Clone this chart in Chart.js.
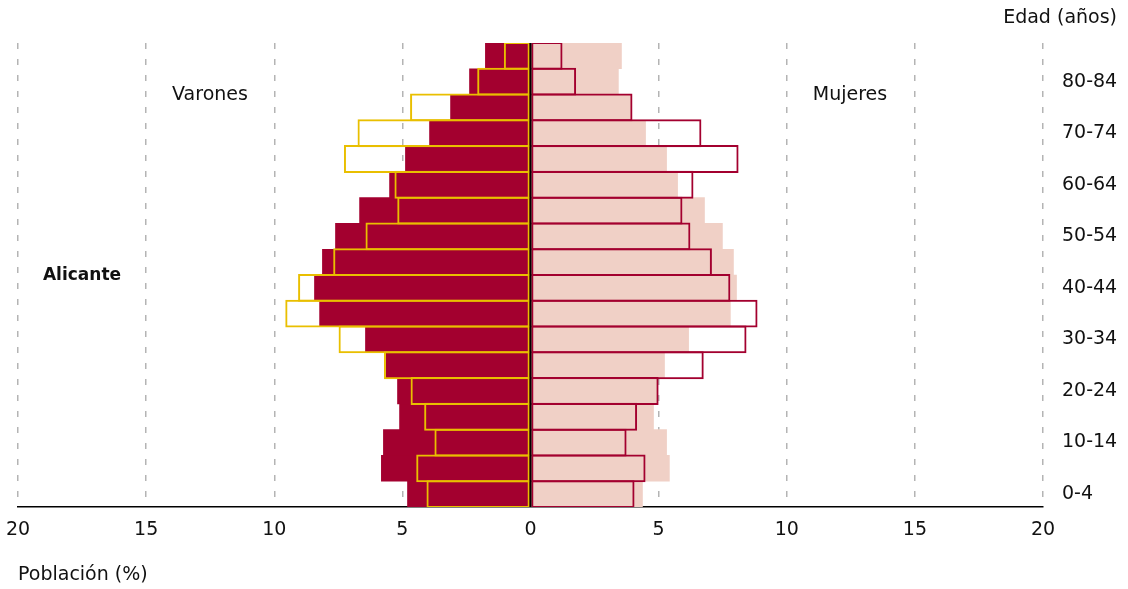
<!DOCTYPE html>
<html><head><meta charset="utf-8">
<script src="https://cdn.jsdelivr.net/npm/chart.js@4/dist/chart.umd.min.js"></script>
<style>html,body{margin:0;padding:0;background:#fff}#wrap{width:1128px;height:589px;position:relative}</style>
</head><body><div id="wrap"><canvas id="c"></canvas></div>
<script>
// Age groups, bottom to top
const ageGroups = ['0-4','5-9','10-14','15-19','20-24','25-29','30-34','35-39','40-44','45-49','50-54','55-59','60-64','65-69','70-74','75-79','80-84','85+'];
// Varones (%) - filled bars
const menFill = [4.80,5.82,5.74,5.11,5.19,5.63,6.44,8.23,8.43,8.12,7.61,6.67,5.50,4.88,3.94,3.12,2.38,1.76];
// Varones (%) - outline bars
const menOutline = [4.06,4.46,3.75,4.15,4.68,5.72,7.49,9.57,9.07,7.70,6.44,5.20,5.31,7.28,6.75,4.70,2.08,1.04];
// Mujeres (%) - filled bars
const womenFill = [4.37,5.42,5.31,4.80,4.94,5.23,6.17,7.80,8.04,7.92,7.49,6.79,5.74,5.31,4.49,3.94,3.43,3.55];
// Mujeres (%) - outline bars
const womenOutline = [4.06,4.49,3.75,4.16,5.00,6.76,8.43,8.86,7.80,7.08,6.24,5.93,6.36,8.12,6.67,3.98,1.78,1.25];
const xMin = -20, xMax = 20, xStep = 5;

const FONT = 'DejaVu Sans';
const DARK = '#a3002f', PINK = '#f0d0c6', YELLOW = '#e9bf00';

const textPlugin = {
  id: 'texts',
  afterDatasetsDraw(chart) {
    const {ctx, chartArea, scales} = chart;
    const x0 = scales.x.getPixelForValue(0);
    ctx.save();
    ctx.strokeStyle = '#000';
    ctx.lineWidth = 2;
    ctx.beginPath();
    ctx.moveTo(x0, chartArea.top);
    ctx.lineTo(x0, chartArea.bottom);
    ctx.stroke();
    ctx.restore();
  },
  afterDraw(chart) {
    const ctx = chart.ctx;
    ctx.save();
    ctx.fillStyle = '#111';
    ctx.textBaseline = 'middle';
    ctx.font = '19px "' + FONT + '"';
    ctx.textAlign = 'right';
    ctx.fillText('Edad (años)', 1117, 18);
    ctx.textAlign = 'center';
    ctx.fillText('Varones', 210, 95);
    ctx.fillText('Mujeres', 850, 95);
    ctx.textAlign = 'left';
    ctx.fillText('Población (%)', 18, 575);
    ctx.font = 'bold 17px "' + FONT + '"';
    ctx.textAlign = 'center';
    ctx.fillText('Alicante', 82, 276);
    ctx.restore();
  }
};

const common = { grouped: false, categoryPercentage: 1 };

new Chart(document.getElementById('c'), {
  type: 'bar',
  data: {
    labels: ageGroups,
    datasets: [
      { ...common, label: 'Varones contorno', data: menOutline.map(v => -v), backgroundColor: 'rgba(0,0,0,0)', borderColor: YELLOW, borderWidth: 2, borderSkipped: false, barPercentage: 1.08, order: 0 },
      { ...common, label: 'Mujeres contorno', data: womenOutline, backgroundColor: 'rgba(0,0,0,0)', borderColor: DARK, borderWidth: 2, borderSkipped: false, barPercentage: 1.08, order: 0 },
      { ...common, label: 'Varones', data: menFill.map(v => -v), backgroundColor: DARK, borderWidth: 0, barPercentage: 1, order: 1 },
      { ...common, label: 'Mujeres', data: womenFill, backgroundColor: PINK, borderWidth: 0, barPercentage: 1, order: 1 }
    ]
  },
  options: {
    indexAxis: 'y',
    responsive: true,
    maintainAspectRatio: false,
    animation: false,
    layout: { padding: { top: 43, left: 18, right: 0, bottom: 0 } },
    plugins: { legend: { display: false }, tooltip: { enabled: false } },
    scales: {
      x: {
        type: 'linear', min: xMin, max: xMax,
        afterFit(scale) { scale.height = 82; scale.paddingLeft = 0; scale.paddingRight = 0; },
        ticks: { stepSize: xStep, callback: v => Math.abs(v), font: { family: FONT, size: 19 }, color: '#111', padding: 12, maxRotation: 0 },
        grid: { color: ctx => (ctx.tick && ctx.tick.value === 0) ? 'rgba(0,0,0,0)' : '#b4b4b4', lineWidth: 1.5, drawTicks: false },
        border: { display: true, color: '#000', width: 1.5, dash: [6, 10] }
      },
      y: {
        type: 'category', position: 'right', reverse: true, stacked: false,
        afterFit(scale) { scale.width = 85; },
        ticks: { autoSkip: false, callback: (v, i) => (i % 2 === 0 ? ageGroups[i] : ''), font: { family: FONT, size: 19 }, color: '#111', padding: 19 },
        grid: { display: false, drawTicks: false },
        border: { display: false }
      }
    }
  },
  plugins: [textPlugin]
});
</script>
</body></html>
